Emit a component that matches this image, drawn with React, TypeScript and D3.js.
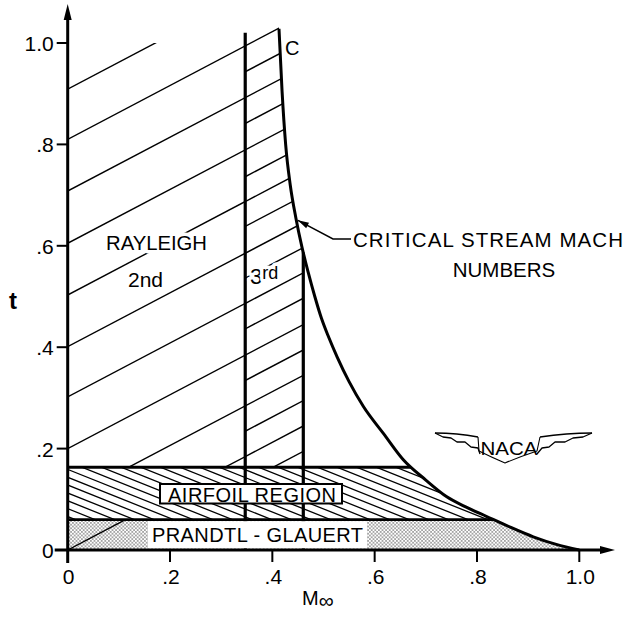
import React from "react";
import * as d3 from "d3";

const W = 627;
const H = 617;

// Axis ticks
const xTickValues = [0, 0.2, 0.4, 0.6, 0.8, 1.0];
const xTickLabels = ["0", ".2", ".4", ".6", ".8", "1.0"];
const yTickValues = [0, 0.2, 0.4, 0.6, 0.8, 1.0];
const yTickLabels = ["0", ".2", ".4", ".6", ".8", "1.0"];

// Critical stream Mach number curve: M∞ and thickness t
const critMach = [0.413, 0.419, 0.426, 0.435, 0.446, 0.458, 0.47, 0.483, 0.496, 0.51, 0.527, 0.55, 0.578, 0.617, 0.656, 0.7, 0.741, 0.78, 0.819, 0.865, 0.91, 0.955, 1.0];
const critThick = [1.028, 0.905, 0.8, 0.72, 0.655, 0.597, 0.548, 0.5, 0.457, 0.42, 0.38, 0.332, 0.283, 0.23, 0.178, 0.138, 0.105, 0.084, 0.066, 0.045, 0.026, 0.011, 0.0];

// Region boundaries (M∞ for verticals, t for horizontals)
const boundary2nd3rd = 0.347;
const boundary3rdEnd = 0.4605;
const boundaryLineTop = 1.02;
const rayleighTop = 1.0;
const airfoilTop = 0.163;
const airfoilBottom = 0.06;

// Rayleigh hatch lines: t = intercept + slope * M
const rayleighSlope = 0.531;
const hatch2ndIntercepts = [0.0, 0.1, 0.2, 0.302, 0.401, 0.503, 0.605, 0.708, 0.81, 0.909];
const hatch3rdIntercepts = [-0.05, 0.0, 0.05, 0.1, 0.15, 0.2, 0.252, 0.302, 0.352, 0.401, 0.454, 0.503, 0.552, 0.605, 0.657, 0.708, 0.759, 0.81];

// Airfoil region hatch (descending lines)
const airfoilHatchSlope = 0.404;
const airfoilHatchStep = 0.0155;

function tOnCurve(m: number) {
  for (let i = 0; i < critMach.length - 1; i++) {
    if (m >= critMach[i] && m <= critMach[i + 1]) {
      const f = (m - critMach[i]) / (critMach[i + 1] - critMach[i]);
      return critThick[i] + f * (critThick[i + 1] - critThick[i]);
    }
  }
  return 0;
}

export default function App() {
  const x = d3.scaleLinear().domain([0, 1]).range([67.7, 579.3]);
  const y = d3.scaleLinear().domain([0, 1]).range([550, 43]);

  const curvePts: [number, number][] = critMach.map((m, i) => [m, critThick[i]]);
  const curveGen = d3
    .line<[number, number]>()
    .x((d) => x(d[0]))
    .y((d) => y(d[1]))
    .curve(d3.curveMonotoneX);
  const curveD = curveGen(curvePts) as string;
  const underD =
    `M${x(0)},${y(0)}L${x(0)},${y(1.035)}L${x(critMach[0])},${y(1.035)}` +
    curveD.replace(/^M/, "L") +
    "Z";

  const hatchLine = (b: number, key: string, sw: number) => {
    const m0 = -0.05;
    const m1 = 0.6;
    return (
      <line
        key={key}
        x1={x(m0)}
        y1={y(b + rayleighSlope * m0)}
        x2={x(m1)}
        y2={y(b + rayleighSlope * m1)}
        stroke="#000"
        strokeWidth={sw}
      />
    );
  };

  const airfoilIntercepts = d3.range(0.004, airfoilTop + airfoilHatchSlope * 1.0 + 0.02, airfoilHatchStep);

  // pointer arrow
  const tipM = 0.447;
  const tip = [x(tipM) + 1.5, y(tOnCurve(tipM))];
  const elbow = [333, 239];
  const leaderEnd = [351, 239];
  const ux = elbow[0] - tip[0];
  const uy = elbow[1] - tip[1];
  const ul = Math.hypot(ux, uy);
  const u = [ux / ul, uy / ul];
  const aL = 11;
  const aW = 3;
  const base = [tip[0] + u[0] * aL, tip[1] + u[1] * aL];
  const arrowPts = [
    tip,
    [base[0] - u[1] * aW, base[1] + u[0] * aW],
    [base[0] + u[1] * aW, base[1] - u[0] * aW],
  ]
    .map((p) => p.join(","))
    .join(" ");

  const halo = {
    paintOrder: "stroke" as const,
    stroke: "#fff",
    strokeWidth: 7,
    strokeLinejoin: "round" as const,
  };

  const x0 = x(0);
  const y0 = y(0);

  // NACA logo (relative to its centre top)
  const lx = 509;
  const ly = 433;
  const wingLeft = "M-74,0 L-66,4 L-58,5 L-52,9 L-44,9 L-38,14 L-31,15 L-29,21";
  const wingRight = "M83,0 L74,4 L64,5 L56,9 L46,9 L40,14 L33,15 L28,21";
  const wingTopL = "M-74,0 Q-52,0 -31,4";
  const wingTopR = "M83,0 Q58,0 31,4";
  const shield = "M-31,4 L-30,18 Q-18,24 -4,30 Q10,24 28,18 L31,4";

  return (
    <svg
      width={W}
      height={H}
      style={{ position: "absolute", left: 0, top: 0, background: "#fff" }}
      fontFamily="'Liberation Sans', Arial, Helvetica, sans-serif"
    >
      <defs>
        <clipPath id="under">
          <path d={underD} />
        </clipPath>
        <clipPath id="r2">
          <rect x={x(0)} y={y(rayleighTop)} width={x(boundary2nd3rd) - x(0)} height={y(airfoilTop) - y(rayleighTop)} />
        </clipPath>
        <clipPath id="r3">
          <rect x={x(boundary2nd3rd)} y={y(1.05)} width={x(boundary3rdEnd) - x(boundary2nd3rd)} height={y(airfoilTop) - y(1.05)} />
        </clipPath>
        <clipPath id="af">
          <rect x={x(0)} y={y(airfoilTop)} width={x(1) - x(0)} height={y(airfoilBottom) - y(airfoilTop)} />
        </clipPath>
        <clipPath id="pg">
          <rect x={x(0)} y={y(airfoilBottom)} width={x(1) - x(0)} height={y(0) - y(airfoilBottom)} />
        </clipPath>
        <pattern id="dots" width="3.6" height="3.6" patternUnits="userSpaceOnUse">
          <circle cx="0.9" cy="0.9" r="0.6" fill="#000" />
          <circle cx="2.7" cy="2.7" r="0.6" fill="#000" />
        </pattern>
      </defs>

      {/* Rayleigh 2nd-order hatch */}
      <g clipPath="url(#r2)">{hatch2ndIntercepts.map((b, i) => hatchLine(b, "h2-" + i, 1.4))}</g>
      {/* Rayleigh 3rd-order hatch */}
      <g clipPath="url(#under)">
        <g clipPath="url(#r3)">{hatch3rdIntercepts.map((b, i) => hatchLine(b, "h3-" + i, 1.4))}</g>
      </g>

      {/* Airfoil region hatch */}
      <g clipPath="url(#under)">
        <g clipPath="url(#af)">
          {airfoilIntercepts.map((c, i) => (
            <line
              key={"af" + i}
              x1={x(-0.05)}
              y1={y(c + airfoilHatchSlope * 0.05)}
              x2={x(1.05)}
              y2={y(c - airfoilHatchSlope * 1.05)}
              stroke="#000"
              strokeWidth={1.3}
            />
          ))}
        </g>
      </g>

      {/* Prandtl-Glauert dotted region */}
      <g clipPath="url(#under)">
        <g clipPath="url(#pg)">
          <rect x={x(0)} y={y(airfoilBottom)} width={x(1) - x(0)} height={y(0) - y(airfoilBottom)} fill="url(#dots)" />
          <line
            x1={x(0)}
            y1={y(0)}
            x2={x(airfoilBottom / rayleighSlope)}
            y2={y(airfoilBottom)}
            stroke="#000"
            strokeWidth={1.4}
          />
        </g>
      </g>

      {/* Region boundary lines */}
      <line x1={x(boundary2nd3rd)} y1={y(0)} x2={x(boundary2nd3rd)} y2={y(boundaryLineTop)} stroke="#000" strokeWidth={3.2} />
      <line x1={x(boundary3rdEnd)} y1={y(0)} x2={x(boundary3rdEnd)} y2={y(tOnCurve(boundary3rdEnd))} stroke="#000" strokeWidth={3.2} />
      <g clipPath="url(#under)">
        <line x1={x(0)} y1={y(airfoilTop)} x2={x(1)} y2={y(airfoilTop)} stroke="#000" strokeWidth={3} />
        <line x1={x(0)} y1={y(airfoilBottom)} x2={x(1)} y2={y(airfoilBottom)} stroke="#000" strokeWidth={2.6} />
      </g>

      {/* White area behind Prandtl-Glauert label */}
      <rect x={148} y={y(airfoilBottom) + 1.6} width={219} height={y(0) - y(airfoilBottom) - 3.2} fill="#fff" />

      {/* Critical Mach curve */}
      <path d={curveD} fill="none" stroke="#000" strokeWidth={3} />

      {/* Axes */}
      <line x1={x0} y1={y0 + 13} x2={x0} y2={12} stroke="#000" strokeWidth={3} />
      <polygon points={`${x0},4 ${x0 - 4},20 ${x0 + 4},20`} fill="#000" />
      <line x1={x0 - 13} y1={y0} x2={606} y2={y0} stroke="#000" strokeWidth={3} />
      <polygon points={`615,${y0} 600,${y0 - 4} 600,${y0 + 4}`} fill="#000" />

      {yTickValues.map((v, i) => (
        <g key={"yt" + i}>
          {v > 0 && <line x1={x0 - 11} y1={y(v)} x2={x0} y2={y(v)} stroke="#000" strokeWidth={2} />}
          <text x={x0 - 14} y={y(v) + 8} fontSize={21} textAnchor="end">
            {yTickLabels[i]}
          </text>
        </g>
      ))}
      {xTickValues.map((v, i) => (
        <g key={"xt" + i}>
          {v > 0 && <line x1={x(v)} y1={y0} x2={x(v)} y2={y0 + 12} stroke="#000" strokeWidth={2} />}
          <text x={x(v) + 1} y={y0 + 34} fontSize={21} textAnchor="middle">
            {xTickLabels[i]}
          </text>
        </g>
      ))}

      {/* Axis titles */}
      <text x={13} y={309} fontSize={24} fontWeight="bold" textAnchor="middle">
        t
      </text>
      <text x={302} y={605} fontSize={20}>
        M
        <tspan fontSize={21} dy={3}>
          ∞
        </tspan>
      </text>

      {/* Region labels */}
      <text x={156.5} y={250} fontSize={20} textAnchor="middle" textLength={101} lengthAdjust="spacingAndGlyphs" style={halo}>
        RAYLEIGH
      </text>
      <text x={128} y={287} fontSize={21} style={halo}>
        2nd
      </text>
      <text x={250} y={284} fontSize={22} style={halo}>
        3
        <tspan fontSize={18} dy={-5}>
          rd
        </tspan>
      </text>
      <text x={285} y={55} fontSize={20}>
        C
      </text>

      {/* Critical stream Mach numbers annotation */}
      <polyline
        points={`${tip[0]},${tip[1]} ${elbow[0]},${elbow[1]} ${leaderEnd[0]},${leaderEnd[1]}`}
        fill="none"
        stroke="#000"
        strokeWidth={1.5}
      />
      <polygon points={arrowPts} fill="#000" />
      <text x={353} y={247} fontSize={20.5} textLength={270} lengthAdjust="spacing">
        CRITICAL STREAM MACH
      </text>
      <text x={504} y={277} fontSize={20.5} textAnchor="middle">
        NUMBERS
      </text>

      {/* Airfoil region label box */}
      <rect x={160} y={484} width={182} height={19.5} fill="#fff" stroke="#000" strokeWidth={2} />
      <text x={168} y={501.5} fontSize={20} textLength={168} lengthAdjust="spacing">
        AIRFOIL REGION
      </text>

      {/* Prandtl-Glauert label */}
      <text x={152} y={542} fontSize={20} textLength={211} lengthAdjust="spacing">
        PRANDTL - GLAUERT
      </text>

      {/* NACA logo */}
      <g transform={`translate(${lx},${ly})`} fill="none" stroke="#000" strokeWidth={1.3} strokeLinejoin="round">
        <path d={wingLeft} />
        <path d={wingRight} />
        <path d={wingTopL} />
        <path d={wingTopR} />
        <path d={shield} strokeWidth={1.1} />
      </g>
      <text x={509} y={455} fontSize={18} textAnchor="middle" textLength={57} lengthAdjust="spacingAndGlyphs">
        NACA
      </text>
    </svg>
  );
}
